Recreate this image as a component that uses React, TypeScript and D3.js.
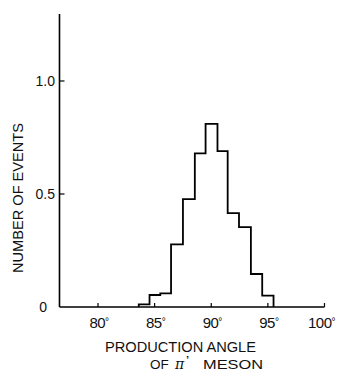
import React from "react";
import * as d3 from "d3";

const binEdges = [83.6, 84.55, 85.5, 86.45, 87.5, 88.55, 89.5, 90.55, 91.45, 92.45, 93.5, 94.5, 95.5];
const binValues = [0.012, 0.053, 0.06, 0.277, 0.477, 0.68, 0.81, 0.69, 0.415, 0.353, 0.146, 0.05];
const xTicks = [80, 85, 90, 95, 100];
const yTicks = [0, 0.5, 1.0];
const yTickLabels = ["0", "0.5", "1.0"];
const xLabelLine1 = "PRODUCTION ANGLE";
const yLabel = "NUMBER OF EVENTS";

export default function App() {
  const W = 337, H = 373;
  const x = d3.scaleLinear().domain([80, 100]).range([98, 324.5]);
  const y = d3.scaleLinear().domain([0, 1]).range([307, 81]);
  const x0 = x(76.6);
  const yTop = 14;

  const pts: [number, number][] = [];
  pts.push([binEdges[0], 0]);
  binValues.forEach((v, i) => {
    pts.push([binEdges[i], v]);
    pts.push([binEdges[i + 1], v]);
  });
  pts.push([binEdges[binEdges.length - 1], 0]);
  const line = d3.line<[number, number]>().x(d => x(d[0])).y(d => y(d[1]));

  const font = "'Liberation Sans', Arial, sans-serif";

  return (
    <svg width={W} height={H} style={{ position: "absolute", left: 0, top: 0, background: "#fff" }}>
      <rect width={W} height={H} fill="#fff" />
      <line x1={x0} y1={yTop} x2={x0} y2={y(0)} stroke="#000" strokeWidth={1.6} />
      <line x1={x0} y1={y(0)} x2={x(100)} y2={y(0)} stroke="#000" strokeWidth={1.6} />
      {xTicks.map(t => (
        <g key={t}>
          <line x1={x(t)} x2={x(t)} y1={y(0)} y2={y(0) - 4} stroke="#000" strokeWidth={1.2} />
          <text x={x(t) + (t === 100 ? -3 : 1)} y={328} textAnchor="middle" fontFamily={font} fontSize={15} fill="#111" letterSpacing={-0.5}>
            {t}
            <tspan fontSize={10} dy={-3}>°</tspan>
          </text>
        </g>
      ))}
      {yTicks.map((t, i) => (
        <g key={t}>
          {t > 0 && <line x1={x0} x2={x0 + 5} y1={y(t)} y2={y(t)} stroke="#000" strokeWidth={1.2} />}
          <text x={t > 0 ? 55 : 47} y={y(t) + 5} textAnchor="end" fontFamily={font} fontSize={14} fill="#111">
            {yTickLabels[i]}
          </text>
        </g>
      ))}
      <path d={line(pts) || ""} fill="none" stroke="#000" strokeWidth={1.8} strokeLinejoin="miter" />
      <text x={105} y={352} fontFamily={font} fontSize={14} fill="#111" textLength={151} lengthAdjust="spacingAndGlyphs">
        {xLabelLine1}
      </text>
      <text x={150} y={369} fontFamily={font} fontSize={13.5} fill="#111">OF</text>
      <text x={175} y={369} fontFamily="'DejaVu Serif', serif" fontStyle="italic" fontSize={14} fill="#111">π</text>
      <text x={186} y={364} fontFamily={font} fontWeight="bold" fontSize={11} fill="#111">ʼ</text>
      <text x={203} y={369} fontFamily={font} fontSize={13.5} fill="#111" textLength={60} lengthAdjust="spacingAndGlyphs">
        MESON
      </text>
      <text transform={`translate(23, 198) rotate(-90)`} textAnchor="middle" fontFamily={font} fontSize={14} fill="#111" textLength={150} lengthAdjust="spacingAndGlyphs">
        {yLabel}
      </text>
    </svg>
  );
}
